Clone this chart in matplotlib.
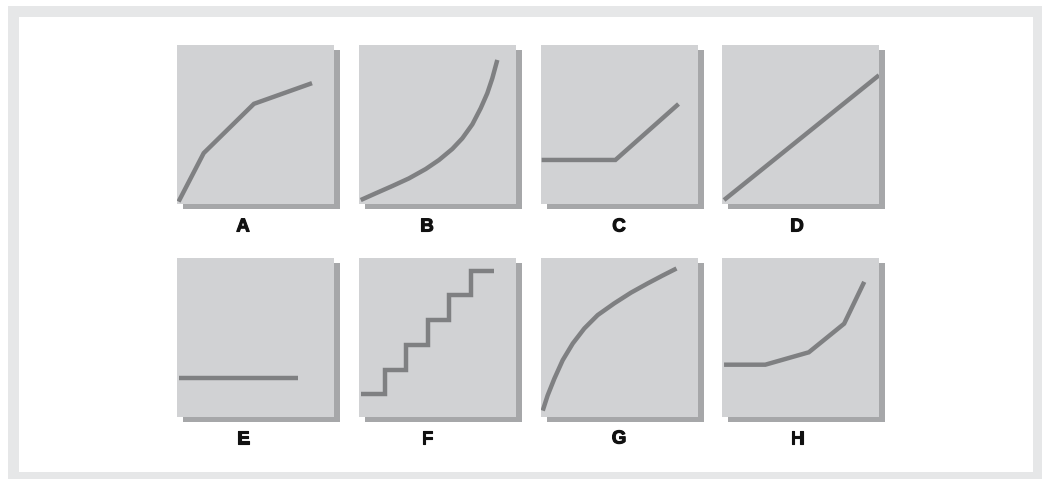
import matplotlib
matplotlib.use("Agg")
import matplotlib.pyplot as plt
from matplotlib.patches import Rectangle
import matplotlib.patheffects as pe

W, H = 1042, 479

labels = ["A", "B", "C", "D", "E", "F", "G", "H"]

# curve data in panel-relative units (0..100)
a_x = [1, 17, 49, 86]
a_y = [1.5, 32, 63, 76]

b_x = [1.1, 10.6, 21.2, 31.8, 42.5, 51.0, 59.4, 65.8, 72.2, 77.5, 81.7, 84.9, 88.1]
b_y = [2.5, 6.7, 11.3, 16.1, 22.0, 27.7, 34.6, 41.3, 50.1, 60.2, 69.6, 79.0, 90.6]

c_x = [0.4, 47.4, 87.6]
c_y = [27.7, 27.7, 62.9]

d_x = [1.3, 100]
d_y = [2.5, 81]

e_x = [1.3, 77.3]
e_y = [24.5, 24.5]

f_x = [1.3, 16.7, 30.2, 43.7, 57.5, 71.1, 86.1]
f_y = [14.4, 29.7, 45.4, 60.8, 76.6, 92.0, 92.0]

g_x = [1.1, 4.2, 8.5, 13.8, 20.2, 27.6, 36.1, 46.7, 57.3, 67.9, 77.5, 86.3]
g_y = [4.0, 13.5, 24.1, 35.7, 46.2, 55.7, 64.1, 71.5, 78.2, 84.0, 89.0, 93.4]

h_x = [1.3, 27.6, 55.3, 77.8, 90.6]
h_y = [32.9, 32.9, 40.7, 58.7, 85.0]

series = [(a_x, a_y, None), (b_x, b_y, None), (c_x, c_y, None), (d_x, d_y, None),
          (e_x, e_y, None), (f_x, f_y, "steps-post"), (g_x, g_y, None), (h_x, h_y, None)]
smooth = [False, True, False, False, False, False, True, False]

FACE = "#d1d2d4"
SHADOW = "#a6a7a9"
LINE = "#7f8082"
FRAME = "#e6e7e8"

fig = plt.figure(figsize=(W / 100, H / 100), dpi=100)
fig.patch.set_facecolor("white")


def frect(x, y, w, h, color, z):
    # x, y: top-left pixel coords
    r = Rectangle((x / W, 1 - (y + h) / H), w / W, h / H, transform=fig.transFigure,
                  facecolor=color, edgecolor="none", zorder=z)
    fig.patches.append(r)


frect(8, 6, W - 8, H - 6, FRAME, -3)
frect(19, 17, 1033 - 19, 472 - 17, "white", -2)

lefts = [177, 359, 541, 722]
tops = [45, 258]
pw, ph = 157, 159
label_x = [243, 427, 619, 797]
label_y = [227, 439]

for i, (xs, ys, ds) in enumerate(series):
    r, c = divmod(i, 4)
    lx, ty = lefts[c], tops[r]
    frect(lx + 5.5, ty + 5, pw, ph, SHADOW, -1)
    ax = fig.add_axes([lx / W, 1 - (ty + ph) / H, pw / W, ph / H])
    ax.set_zorder(1)
    ax.set_facecolor(FACE)
    ax.set_xlim(0, 100)
    ax.set_ylim(0, 100)
    for s in ax.spines.values():
        s.set_visible(False)
    ax.set_xticks([])
    ax.set_yticks([])
    kw = {}
    if ds:
        kw["drawstyle"] = ds
    ax.plot(xs, ys, color=LINE, lw=3.2, solid_capstyle="butt",
            solid_joinstyle="round" if smooth[i] else "miter", **kw)
    fig.text(label_x[c] / W, 1 - label_y[r] / H, labels[i], ha="center", va="center",
             fontsize=13.5, fontweight="bold", family=["Liberation Sans", "DejaVu Sans"],
             color="#111111",
             path_effects=[pe.withStroke(linewidth=0.8, foreground="#111111")])

fig.savefig("out.png", dpi=100, facecolor=fig.get_facecolor())
